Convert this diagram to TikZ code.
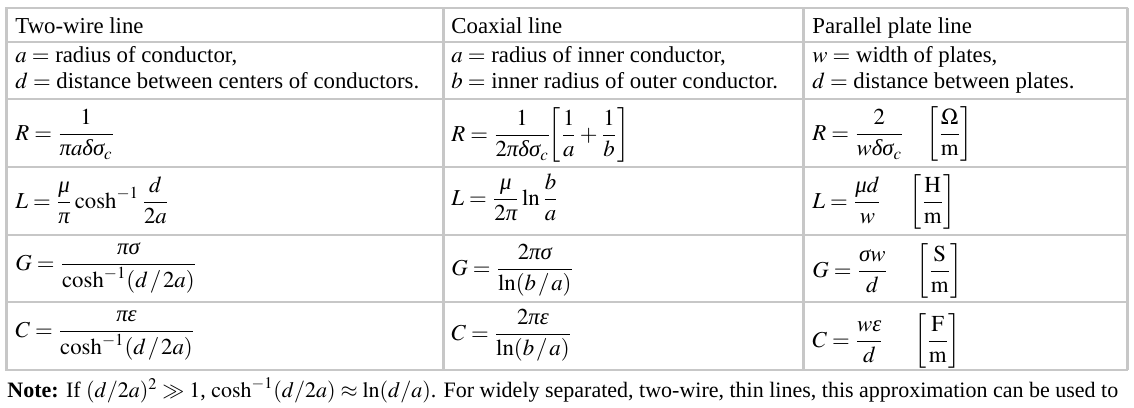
\documentclass[tikz,border=0pt]{standalone}
\usepackage{mathptmx}
\usepackage{fontspec}
\setmainfont{Liberation Serif}
\newcommand{\myfs}{\fontsize{11.4}{13}\selectfont}
\newcommand{\notefs}{\fontsize{11}{13}\selectfont}
\newcommand{\myslash}{\mkern1.5mu/\mkern1.5mu}
\newcommand{\gk}[1]{\mathord{\hbox{\itshape #1}}}
\newcommand{\gpi}{\gk{π}}
\newcommand{\gdelta}{\gk{δ}}
\newcommand{\gsigma}{\gk{σ}}
\newcommand{\gmu}{\gk{μ}}
\newcommand{\geps}{\gk{ε}}
\begin{document}
\begin{tikzpicture}[x=0.5pt,y=-0.5pt,
  hline/.style={draw=black!22, line width=1pt},
  vline/.style={draw=black!22, line width=1.5pt},
  txt/.style={inner sep=0pt, anchor=base west, font=\myfs},
  unitbox/.style={inner sep=0pt, anchor=base west, font=\myfs}]
\useasboundingbox (0,0) rectangle (1134,407);
\fill[white] (0,0) rectangle (1134,407);
% grid
\draw[hline] (6,7.5) rectangle (1127,370);
\foreach \yy in {41.5,99,166.5,235,302} \draw[hline] (6,\yy) -- (1127,\yy);
\foreach \xx in {6,443,803,1127} \draw[vline] (\xx,7.5) -- (\xx,370);
% headers
\node[txt] (h1) at (15,33) {Two-wire line};
\node[txt] (h2) at (451,33) {Coaxial line};
\node[txt] (h3) at (812,33) {Parallel plate line};
% descriptions
\node[txt] (d1a) at (15,62) {$a=$ radius of conductor,};
\node[txt] (d1b) at (15,88) {$d=$ distance between centers of conductors.};
\node[txt] (d2a) at (451,62) {$a=$ radius of inner conductor,};
\node[txt] (d2b) at (451,88) {$b=$ inner radius of outer conductor.};
\node[txt] (d3a) at (812,62) {$w=$ width of plates,};
\node[txt] (d3b) at (812,88) {$d=$ distance between plates.};
% R row
\node[txt] (r1) at (15,140) {$\displaystyle R=\frac{1}{\gpi a\gdelta\gsigma_c}$};
\node[txt] (r2) at (451,141) {$\displaystyle R=\frac{1}{2\gpi\gdelta\gsigma_c}\mkern-4mu\left[\frac{1}{a}+\frac{1}{b}\right]$};
\node[txt] (r3) at (812,140) {$\displaystyle R=\frac{2}{w\gdelta\gsigma_c}$};
\node[unitbox] (u1) at (926,140) {$\displaystyle\left[\frac{\Omega}{\mathrm{m}}\right]$};
% L row
\node[txt] (l1) at (15,208) {$\displaystyle L=\frac{\gmu}{\gpi}\cosh^{-1}\frac{d}{2a}$};
\node[txt] (l2) at (451,205) {$\displaystyle L=\frac{\gmu}{2\gpi}\ln\frac{b}{a}$};
\node[txt] (l3) at (812,208) {$\displaystyle L=\frac{\gmu d}{w}$};
\node[unitbox] (u2) at (909,208) {$\displaystyle\left[\frac{\mathrm{H}}{\mathrm{m}}\right]$};
% G row
\node[txt] (g1) at (15,270) {$\displaystyle G=\frac{\gpi\gsigma}{\cosh^{-1}(d\myslash 2a)}$};
\node[txt] (g2) at (451,275) {$\displaystyle G=\frac{2\gpi\gsigma}{\ln(b\myslash a)}$};
\node[txt] (g3) at (812,277) {$\displaystyle G=\frac{\gsigma w}{d}$};
\node[unitbox] (u3) at (916,277) {$\displaystyle\left[\frac{\mathrm{S}}{\mathrm{m}}\right]$};
% C row
\node[txt] (c1) at (15,337) {$\displaystyle C=\frac{\gpi\geps}{\cosh^{-1}(d\myslash 2a)}$};
\node[txt] (c2) at (451,340) {$\displaystyle C=\frac{2\gpi\geps}{\ln(b\myslash a)}$};
\node[txt] (c3) at (812,347) {$\displaystyle C=\frac{w\geps}{d}$};
\node[unitbox] (u4) at (914,347) {$\displaystyle\left[\frac{\mathrm{F}}{\mathrm{m}}\right]$};
% note
\node[txt, font=\notefs] (note) at (7,397) {\textbf{Note:} If $(d/2a)^2\gg 1$, $\cosh^{-1}(d/2a)\approx\ln(d/a)$. For widely separated, two-wire, thin lines, this approximation can be used to};
\end{tikzpicture}
\end{document}
